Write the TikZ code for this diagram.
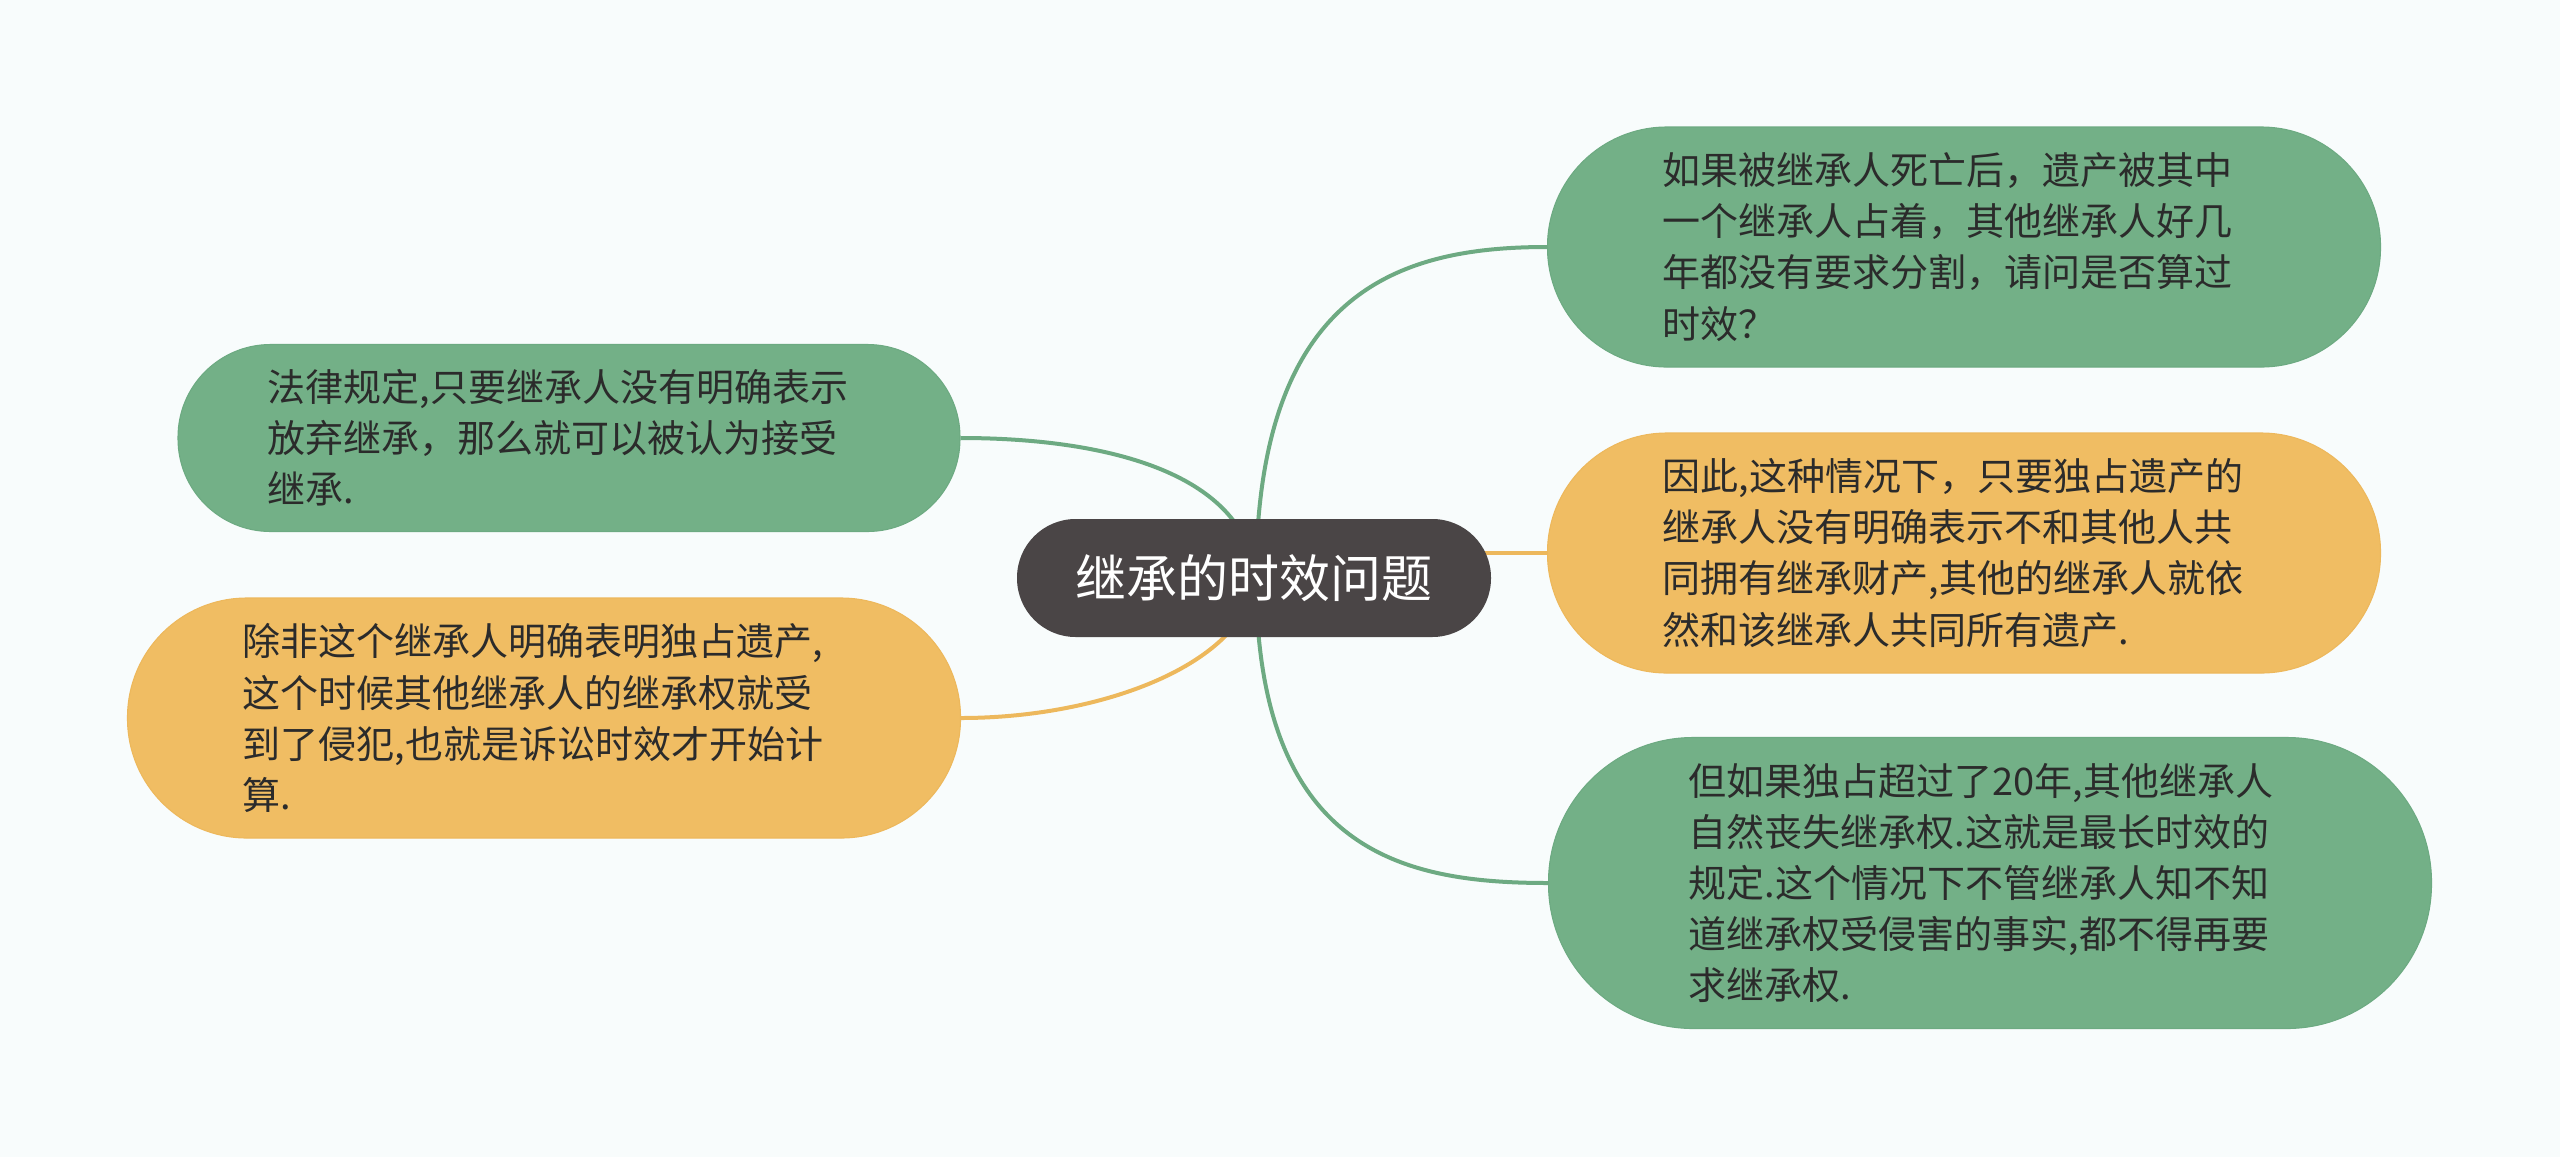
\documentclass[tikz,border=0pt]{standalone}
\usepackage{fontspec}
\setmainfont{Noto Sans CJK SC}
\usetikzlibrary{backgrounds}
\definecolor{bgc}{HTML}{F8FCFC}
\definecolor{gfill}{HTML}{73B087}
\definecolor{gline}{HTML}{6DAA82}
\definecolor{ofill}{HTML}{F0BD63}
\definecolor{oline}{HTML}{EDB85C}
\definecolor{cfill}{HTML}{4A4546}
\definecolor{txt}{HTML}{2B2B2B}
\tikzset{
  leaf/.style={rectangle, inner sep=0pt, text width=452pt, align=left,
    text=txt, font=\fontsize{28.5pt}{38.3pt}\selectfont},
  gleaf/.style={leaf, fill=gfill, draw=gline, line width=0.8pt},
  oleaf/.style={leaf, fill=ofill, draw=oline, line width=0.8pt},
  root/.style={rectangle, inner sep=0pt, fill=cfill, text=white,
    minimum width=355.5pt, minimum height=88.5pt, rounded corners=44pt,
    font=\fontsize{38.25pt}{44pt}\selectfont},
  gcon/.style={draw=gline, line width=3pt},
  ocon/.style={draw=oline, line width=3pt}
}
\begin{document}
\begin{tikzpicture}[x=0.75pt,y=-0.75pt]
\useasboundingbox (0,0) rectangle (2560,1157);

\node[root] (c) at (1254,578) {继承的时效问题};

\node[gleaf, minimum width=586.5pt, minimum height=140.25pt, rounded corners=69.5pt] (l1) at (569,438)
  {法律规定,只要继承人没有明确表示\\放弃继承，那么就可以被认为接受\\继承.};
\node[oleaf, minimum width=624.75pt, minimum height=180pt, rounded corners=89.5pt] (l2) at (544,718)
  {除非这个继承人明确表明独占遗产,\\这个时候其他继承人的继承权就受\\到了侵犯,也就是诉讼时效才开始计\\算.};
\node[gleaf, minimum width=624.75pt, minimum height=180pt, rounded corners=89.5pt] (r1) at (1964,247)
  {如果被继承人死亡后，遗产被其中\\一个继承人占着，其他继承人好几\\年都没有要求分割，请问是否算过\\时效？};
\node[oleaf, minimum width=624.75pt, minimum height=180pt, rounded corners=89.5pt] (r2) at (1964,553)
  {因此,这种情况下，只要独占遗产的\\继承人没有明确表示不和其他人共\\同拥有继承财产,其他的继承人就依\\然和该继承人共同所有遗产.};
\node[gleaf, minimum width=662.25pt, minimum height=218.25pt, rounded corners=108.5pt] (r3) at (1990,883)
  {但如果独占超过了20年,其他继承人\\自然丧失继承权.这就是最长时效的\\规定.这个情况下不管继承人知不知\\道继承权受侵害的事实,都不得再要\\求继承权.};

\coordinate (cs) at (1256,578);
\coordinate (cm) at (1400,553);

\begin{pgfonlayer}{background}
\fill[bgc] (0,0) rectangle (2560,1157);
\draw[gcon] (cs) .. controls (1245,470) and (1100,438) .. (l1.east);
\draw[ocon] (cs) .. controls (1245,665) and (1100,718) .. (l2.east);
\draw[gcon] (cs) .. controls (1257,290) and (1400,247) .. (r1.west);
\draw[ocon] (cm) -- (r2.west);
\draw[gcon] (cs) .. controls (1257,850) and (1400,883) .. (r3.west);
\end{pgfonlayer}
\end{tikzpicture}
\end{document}
